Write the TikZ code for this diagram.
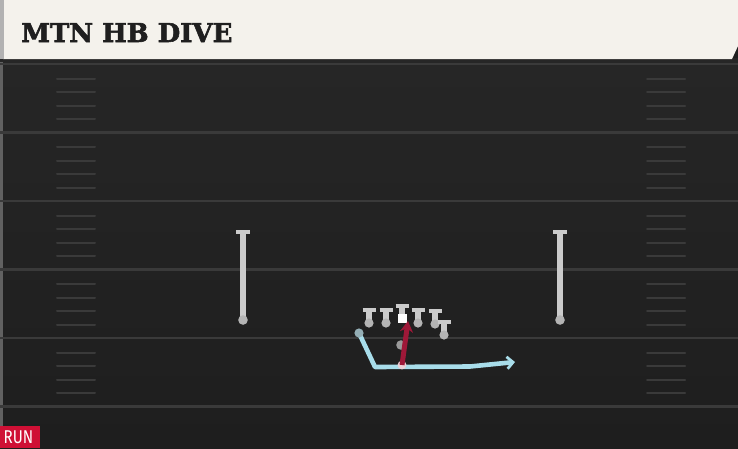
\documentclass[tikz,border=0pt]{standalone}
\usepackage{fontspec}
\usetikzlibrary{arrows.meta,positioning}
\newfontfamily\titlefont{DejaVu Serif}[FakeBold=2.2]
\newfontfamily\runfont{Fira Sans}[FakeStretch=0.82]
\definecolor{fieldbg}{HTML}{262626}
\definecolor{fieldlow}{HTML}{1E1E1E}
\definecolor{lineclr}{HTML}{3A3A3A}
\definecolor{cream}{HTML}{F4F2EC}
\definecolor{playergrey}{HTML}{CBCBCB}
\definecolor{dotgrey}{HTML}{B4B4B4}
\definecolor{runred}{HTML}{CF1035}
\definecolor{routered}{HTML}{9E1838}
\definecolor{routeblue}{HTML}{A8DDEA}

\begin{document}
\begin{tikzpicture}[x=1pt,y=-1pt,
	yardline/.style={draw=lineclr,line width=2.2pt},
	hashmark/.style={draw=lineclr,line width=2pt,line cap=round},
	stem/.style={draw=playergrey,line width=5.5pt},
	bar/.style={draw=playergrey,line width=4.8pt},
	dot/.style={fill=dotgrey},
	blueroute/.style={draw=routeblue,line width=4.6pt,line join=round,-{Straight Barb[length=6pt,width=12pt,line width=2.8pt]}},
	redroute/.style={draw=routered,line width=5pt,-{Stealth[length=11pt,width=13pt]}}]
\useasboundingbox (0,0) rectangle (738,448);

% field
\fill[fieldbg!80!black] (0,0) rectangle (738,448);
\shade[top color=fieldbg,bottom color=fieldlow] (0,62) rectangle (738,448);
\fill[black!85] (0,58) rectangle (738,62);
\fill[lineclr!80] (0,62) rectangle (2.5,448);
\foreach \i in {0,...,5} {
	\pgfmathsetmacro{\ya}{64+68.5*\i}
	\draw[yardline] (0,\ya) -- (738,\ya);
}
\foreach \i in {0,...,4} {
	\foreach \k in {1,...,4} {
		\pgfmathsetmacro{\yh}{64+68.5*\i+13.6*\k+1}
		\draw[hashmark] (57,\yh) -- (95,\yh);
		\draw[hashmark] (647,\yh) -- (685,\yh);
	}
}

% title bar
\fill[cream] (3,0) -- (738,0) -- (738,46) -- (732,59) -- (3,59) -- cycle;
\fill[gray!60] (0,0) rectangle (4,59);
\node[anchor=base west,inner sep=0,text=black!88,font=\titlefont\bfseries\fontsize{26}{26}\selectfont] (title) at (21,42) {MTN HB DIVE};

% receivers
\foreach \n/\x in {wrl/243,wrr/560} {
	\coordinate (\n) at (\x,232);
	\draw[stem] (\n) -- ++(0,88) coordinate (\n-b);
	\draw[bar] (\n) ++(-7,0) -- ++(14,0);
	\fill[dot] (\n-b) circle (4.8);
}

% line
\foreach \n/\x/\y in {lt/369/310,lg/386/310,rg/418/310,rt/435/311,te/444/322} {
	\coordinate (\n) at (\x,\y);
	\draw[stem] (\n) -- ++(0,13) coordinate (\n-b);
	\draw[bar] (\n) ++(-6.5,0) -- ++(13,0);
	\fill[dot] (\n-b) circle (4.6);
}
\coordinate (c) at (402,306);
\draw[stem] (c) -- ++(0,8);
\draw[bar] (c) ++(-6.5,0) -- ++(13,0);
\node[fill=white,minimum size=9pt,inner sep=0] (center) at (402,318.5) {};

% backs and routes
\coordinate (qb) at (401,345);
\coordinate (fb) at (359,333);
\coordinate (fbcut) at (375,367);
\coordinate (fbmid) at (470,366.5);
\coordinate (fbend) at (515,362);
\coordinate (hb) at (402,365);
\coordinate (hbend) at (408,321);
\fill[dotgrey!85!black] (qb) circle (4.8);
\draw[blueroute] (fb) -- (fbcut) -- (fbmid) -- (fbend);
\fill[gray!50!routeblue] (fb) circle (4.6);
\fill[routered!20!white] (hb) circle (4.4);
\draw[redroute] (hb) -- (hbend);

% tag
\fill[runred] (0,426) rectangle (40,448);
\node[anchor=base west,inner sep=0,text=white,font=\runfont\fontsize{18.5}{18.5}\selectfont] (run) at (3.5,443.5) {RUN};
\end{tikzpicture}
\end{document}
